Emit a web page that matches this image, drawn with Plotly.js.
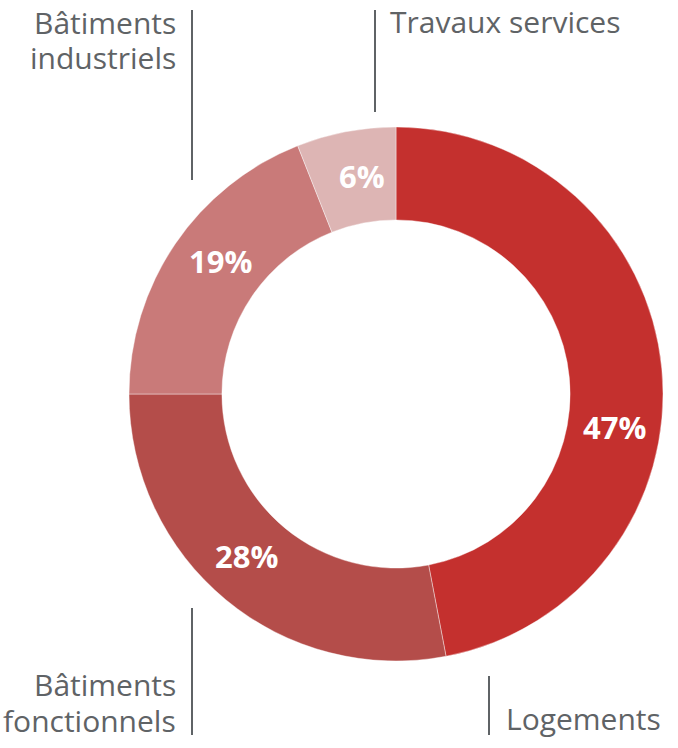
<!DOCTYPE html>
<html><head><meta charset="utf-8">
<script src="https://cdn.plot.ly/plotly-3.0.1.min.js"></script>
<style>html,body{margin:0;padding:0;background:#fff}</style>
</head><body><div id="chart" style="width:678px;height:748px"></div>
<script>
const categories = ["Logements", "Bâtiments fonctionnels", "Bâtiments industriels", "Travaux services"];
const values = [47, 28, 19, 6];
const colors = ["#c4302e", "#b44d4a", "#c97a79", "#ddb5b4"];
const labelLines = [["Logements"], ["Bâtiments", "fonctionnels"], ["Bâtiments", "industriels"], ["Travaux services"]];
const W = 678, H = 748;
const gray = "#5f6366";
// donut geometry (pixels)
const CX = 396, CY = 394, R = 267, HOLE = 0.652;
const labelShiftDeg = [14, 3, 3, 2];
const data = [{
  type: "pie",
  labels: categories,
  values: values,
  sort: false,
  direction: "clockwise",
  rotation: 0,
  hole: HOLE,
  marker: {colors: colors, line: {color: "rgba(255,255,255,0.4)", width: 1}},
  textinfo: "none",
  domain: {x: [(CX-R)/W, (CX+R)/W], y: [(H-CY-R)/H, (H-CY+R)/H]},
  showlegend: false,
  hoverinfo: "none"
}];
const lbl = {family: "Open Sans", size: 30, color: gray};
// outside category labels: anchor x, anchor side, first line centre y, line step
const labelPlace = [
  {x: 504, side: "left", y: 718, step: 0},
  {x: 178, side: "right", y: 684, step: 36},
  {x: 178, side: "right", y: 22, step: 36},
  {x: 388, side: "left", y: 21, step: 0}
];
const annotations = [];
labelLines.forEach((lines, i) => {
  const p = labelPlace[i];
  lines.forEach((t, j) => {
    annotations.push({xref: "paper", yref: "paper", showarrow: false, font: lbl,
      text: t, x: p.x / W, y: 1 - (p.y + j * p.step) / H,
      xanchor: p.side, yanchor: "middle", align: p.side});
  });
});
// percentage labels placed at each slice's mid-angle on the ring's mid radius
const total = values.reduce((a, b) => a + b, 0);
let cum = 0;
const rMid = R * (1 + HOLE) / 2;
values.forEach((v, i) => {
  const mid = (cum + v / 2) / total * 360 + labelShiftDeg[i];
  cum += v;
  const th = mid * Math.PI / 180;
  const px = CX + rMid * Math.sin(th), py = CY - rMid * Math.cos(th);
  annotations.push({
    xref: "paper", yref: "paper", showarrow: false,
    x: px / W, y: 1 - py / H, xanchor: "center", yanchor: "middle",
    text: Math.round(v / total * 100) + "%",
    font: {family: "Open Sans", size: 31, color: "#ffffff", weight: 700}
  });
});
function vline(x, y0, y1) {
  return {type: "line", xref: "paper", yref: "paper", x0: x/W, x1: x/W, y0: 1 - y0/H, y1: 1 - y1/H,
          line: {color: gray, width: 2}};
}
const layout = {
  width: W, height: H,
  margin: {l: 0, r: 0, t: 0, b: 0},
  paper_bgcolor: "#fff",
  annotations: annotations,
  shapes: [vline(192, 10, 180), vline(375, 10, 112), vline(192, 608, 735), vline(489, 676, 735)]
};
Plotly.newPlot("chart", data, layout, {displayModeBar: false, staticPlot: true});
</script></body></html>
